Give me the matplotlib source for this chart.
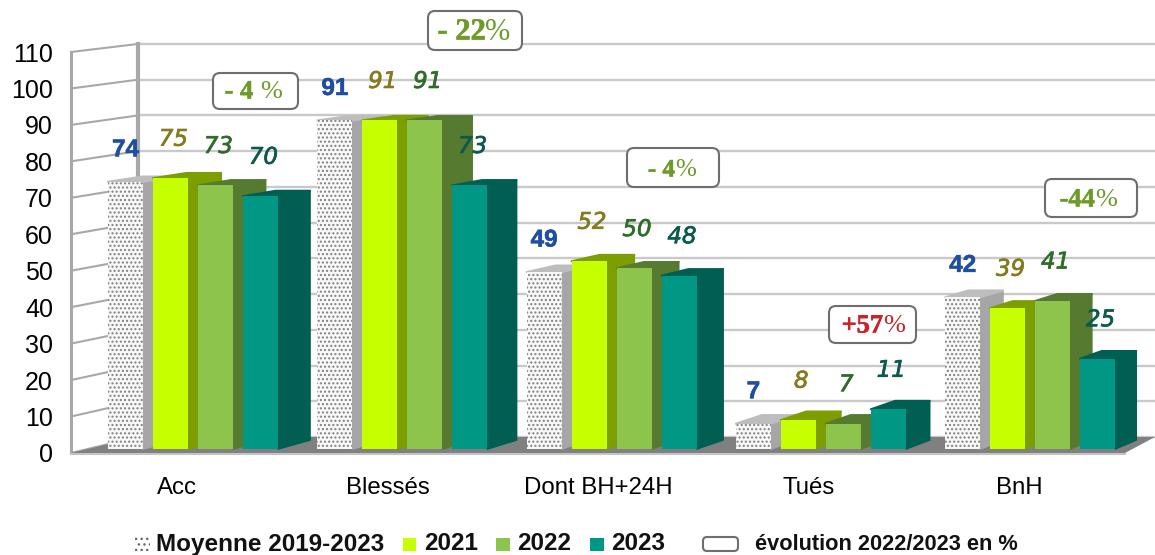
import matplotlib
matplotlib.use("Agg")
import matplotlib.pyplot as plt
import matplotlib.patheffects as pe
from matplotlib.patches import Polygon, FancyBboxPatch, Rectangle

plt.rcParams['font.family'] = ['Liberation Sans', 'DejaVu Sans']
plt.rcParams['hatch.linewidth'] = 1.0

categories = ['Acc', 'Blessés', 'Dont BH+24H', 'Tués', 'BnH']
moyenne = [74, 91, 49, 7, 42]
y2021 = [75, 91, 52, 8, 39]
y2022 = [73, 91, 50, 7, 41]
y2023 = [70, 73, 48, 11, 25]
series_names = ['Moyenne 2019-2023', '2021', '2022', '2023']
evolution_name = 'évolution 2022/2023 en %'
evolution_main = ['- 4 ', '- 22', '- 4', '+57', '-44']
evolution_pct = ['%', '%', '%', '%', '%']
y_ticks = [0, 10, 20, 30, 40, 50, 60, 70, 80, 90, 100, 110]

W, H = 1155, 555
X0, XS = 177.0, 210.6
Y0, YS = 453.0, 3.645

fig = plt.figure(figsize=(W / 100, H / 100), dpi=100, facecolor='white')
ax = fig.add_axes([71 / W, (H - 453) / H, (W - 71) / W, (453 - 52) / H])
ax.set_xlim((71 - X0) / XS, (W - X0) / XS)
ax.set_ylim(0, 110)
ax.patch.set_alpha(0)
for s in ax.spines.values():
    s.set_visible(False)


def xd(px):
    return (px - X0) / XS


def yd(py):
    return (Y0 - py) / YS


GRID = '#C9C9C9'
WALL = '#A8A8A8'
# back wall and side wall
back_zero, back_scale = yd(437), (yd(44) - yd(437)) / 110
for v in y_ticks:
    yb = back_zero + v * back_scale
    ax.plot([xd(138), xd(W)], [yb, yb], color=GRID, lw=1.7, zorder=1, clip_on=False)
    ax.plot([xd(71), xd(138)], [v, yb], color=WALL, lw=1.5, zorder=1, clip_on=False)
ax.plot([xd(138), xd(138)], [back_zero, back_zero + 110 * back_scale], color=WALL, lw=3, zorder=2, clip_on=False)
ax.plot([xd(71), xd(71)], [0, 110], color=WALL, lw=2.2, zorder=2, clip_on=False)
ax.add_patch(Polygon([(xd(71), 0), (xd(1125), 0), (xd(1155), back_zero), (xd(138), back_zero)],
                     closed=True, fc='#808080', ec='none', zorder=2))
ax.plot([xd(71), xd(1125)], [-0.3, -0.3], color='#C4C4C4', lw=1.5, zorder=2, clip_on=False)

# bars
BASE, SCALE = 4 / YS, 3.61 / YS
WIDTH = 35 / XS
GROUP = [-51.5, -6.5, 38.5, 83.5]
GROUP_DRIFT = -1.3
FRONT = ['white', '#C6FF00', '#8CC44C', '#009784']
SIDE = ['#A6A6A6', '#7C9E00', '#567A30', '#005F52']
TOP = ['#BDBDBD', '#7C9E00', '#567A30', '#005F52']
LABEL = ['#1F4EA1', '#857A1F', '#2F6B2A', '#0B5A4D']
LIFT = [32, 39, 39, 39]


def back(x, y):
    xp, yp = X0 + XS * x, Y0 - YS * y
    return x + 0.01314 * (2713 - xp) / XS, y + 0.0138 * (yp + 201) / YS


rows = [moyenne, y2021, y2022, y2023]
for g in range(len(categories)):
    for s, vals in enumerate(rows):
        c = g + (GROUP[s] + GROUP_DRIFT * g) / XS
        l, r = c - WIDTH / 2, c + WIDTH / 2
        b, t = BASE, BASE + vals[g] * SCALE
        side = [(r, b), back(r, b), back(r, t), (r, t)]
        top = [(l, t), (r, t), back(r, t), back(l, t)]
        ax.add_patch(Polygon(side, closed=True, fc=SIDE[s], ec=SIDE[s], lw=1.2, joinstyle='round', zorder=3))
        ax.add_patch(Polygon(top, closed=True, fc=TOP[s], ec=TOP[s], lw=1.5, joinstyle='round', zorder=3))
        if s == 0:
            ax.bar(c, t - b, WIDTH, bottom=b, color='#F8F8F8', edgecolor='#808080', hatch='....', lw=0, zorder=3)
        else:
            ax.bar(c, t - b, WIDTH, bottom=b, color=FRONT[s], lw=0, zorder=3)
        style = dict(fontsize=17.5, fontweight='bold',
                     path_effects=[pe.withStroke(linewidth=0.4, foreground=LABEL[s])]) if s == 0 else dict(
            family='DejaVu Sans', style='oblique', fontsize=16.5,
            path_effects=[pe.withStroke(linewidth=0.5, foreground=LABEL[s])])
        ax.annotate(str(vals[g]), xy=(c, t), xytext=(2 if s else 0, LIFT[s] * 0.72),
                    textcoords='offset points', ha='center', va='center',
                    color=LABEL[s], zorder=6, annotation_clip=False, **style)

ax.set_xticks(range(len(categories)), categories, fontsize=17.3)
ax.set_yticks(y_ticks, [str(v) for v in y_ticks], fontsize=18)
ax.tick_params(axis='x', length=0, pad=17)
ax.tick_params(axis='y', length=0, pad=13)

# overlay in pixel space for call-outs and legend
ov = fig.add_axes([0, 0, 1, 1], zorder=5)
ov.set_xlim(0, W)
ov.set_ylim(H, 0)
ov.axis('off')

BOXES = [(213, 73, 85, 36, 260, 92, 19), (428, 11, 94, 39, 485.5, 32, 22), (627, 148, 92, 39, 675, 170, 18),
         (829, 306, 87, 37, 883, 326, 19), (1045, 179, 92, 38, 1095, 200, 19)]
EV_COL = ['#6E9A2A', '#6E9A2A', '#6E9A2A', '#C8222A', '#6E9A2A']
for i, (x, y, w, h, tx, ty, fs) in enumerate(BOXES):
    ov.add_patch(FancyBboxPatch((x + 6, y + 6), w - 12, h - 12, boxstyle='round,pad=6,rounding_size=7',
                                fc='white', ec='#6E6E6E', lw=1.5))
    ov.text(tx, ty, evolution_main[i], family='Liberation Serif', fontweight='bold', fontsize=fs,
            color=EV_COL[i], ha='right', va='center',
            path_effects=[pe.withStroke(linewidth=0.4, foreground=EV_COL[i])])
    ov.text(tx, ty, evolution_pct[i], family='Liberation Serif', fontsize=fs,
            color=EV_COL[i], ha='left', va='center')

LEG_Y = 544
swatches = [(135, 15), (403, 13), (496, 14), (590, 14)]
text_x = [156, 424, 517, 611]
for s, name in enumerate(series_names):
    sx, sw = swatches[s]
    if s == 0:
        ov.add_patch(Rectangle((sx, LEG_Y - 7), sw, 14, fc='white', ec='#666666', hatch='...', lw=0))
    else:
        ov.add_patch(Rectangle((sx, LEG_Y - 6.5), sw, 13, fc=FRONT[s], lw=0))
    ov.text(text_x[s], LEG_Y, name, fontsize=17.5, fontweight='bold', ha='left', va='center', color='#111111')
ov.add_patch(FancyBboxPatch((707, LEG_Y - 3), 27, 6, boxstyle='round,pad=4,rounding_size=4',
                            fc='white', ec='#6E6E6E', lw=1.5))
ov.text(755, LEG_Y + 1, evolution_name, fontsize=15.7, fontweight='bold', ha='left', va='center', color='#111111')

fig.savefig('out.png', dpi=100, facecolor='white')
